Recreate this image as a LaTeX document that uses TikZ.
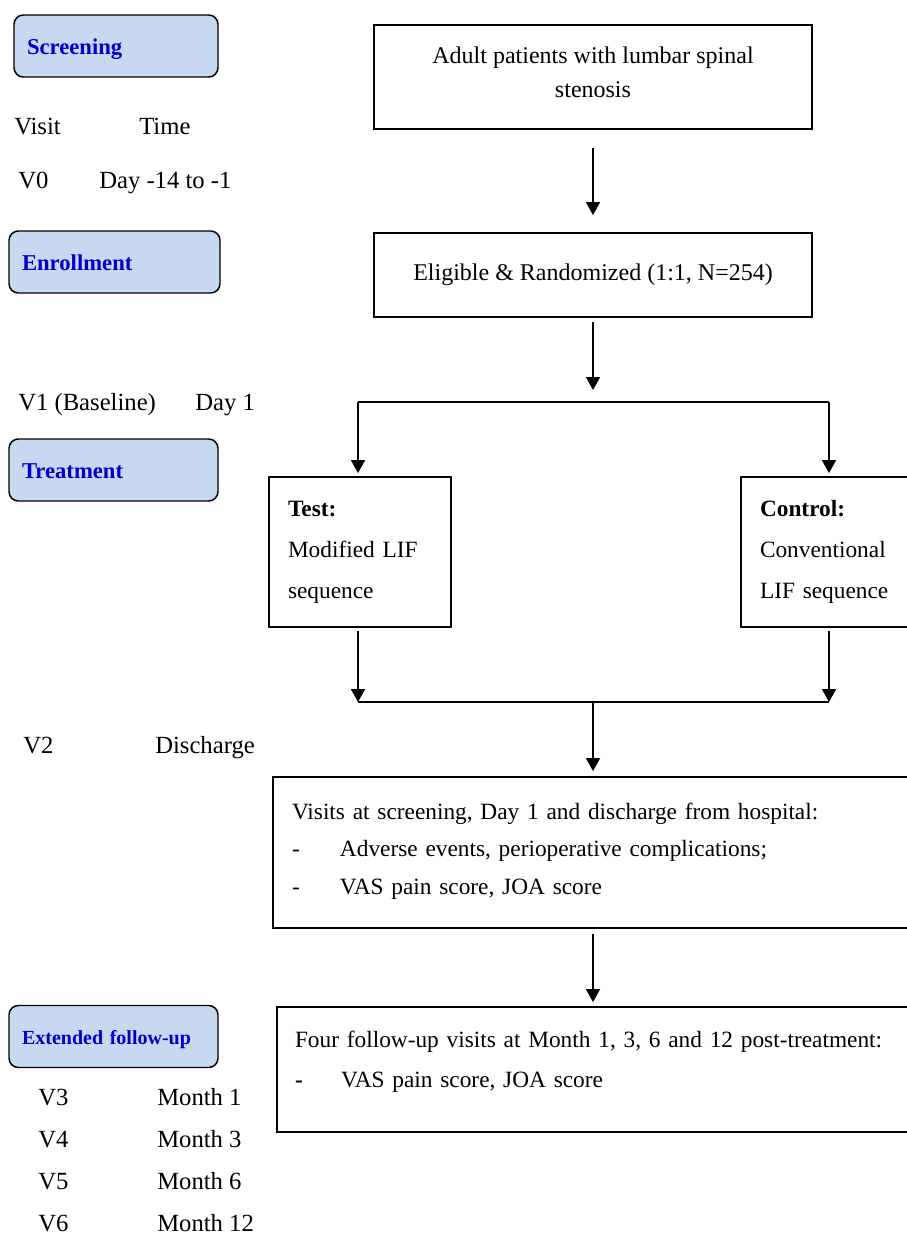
\documentclass[tikz,border=0pt]{standalone}
\usepackage{fontspec}
\setmainfont{Liberation Serif}
\usetikzlibrary{arrows.meta,calc,positioning}
\definecolor{phasefill}{RGB}{198,217,241}
\definecolor{phasetext}{RGB}{0,0,204}

\begin{document}
\begin{tikzpicture}[x=0.75pt,y=-0.75pt,
  phase/.style={draw,line width=1.1pt,rounded corners=7pt,fill=phasefill,text=phasetext,
    font=\fontsize{17}{20}\selectfont\bfseries,align=left,inner xsep=9.75pt,minimum height=46.5pt,
    text height=14pt,text depth=2pt},
  lbl/.style={anchor=base west,inner sep=0pt,font=\fontsize{18.5}{22}\selectfont},
  box/.style={draw,line width=1.4pt,inner ysep=0pt,inner xsep=14.25pt},
  arr/.style={line width=1.3pt,-{Triangle[width=10.5pt,length=9.75pt]}},
  ln/.style={line width=1.3pt}]
 \clip (0,0) rectangle (907,1236);
 % phases
 \node[phase,text width=133.5pt] (screen) at (116,46) {Screening};
 \node[phase,text width=138.75pt] (enrol) at (114.5,262) {Enrollment};
 \node[phase,text width=137.25pt] (treat) at (113.5,470) {Treatment};
 \node[phase,text width=137.25pt,font=\fontsize{15}{18}\selectfont\bfseries] (extfu) at (113.5,1036.5) {Extended follow-up};
 % visits and times
 \node[lbl] (visit) at (14,134) {Visit};
 \node[lbl] (time) at (139,134) {Time};
 \node[lbl] (v0) at (18,188) {V0};
 \node[lbl] (t0) at (99,188) {Day -14 to -1};
 \node[lbl] (v1) at (18,410) {V1 (Baseline)};
 \node[lbl] (t1) at (195,410) {Day 1};
 \node[lbl] (v2) at (23,753) {V2};
 \node[lbl] (t2) at (155,753) {Discharge};
 \node[lbl] (v3) at (38,1105) {V3};
 \node[lbl] (t3) at (157,1105) {Month 1};
 \node[lbl] (v4) at (38,1147) {V4};
 \node[lbl] (t4) at (157,1147) {Month 3};
 \node[lbl] (v5) at (38,1189) {V5};
 \node[lbl] (t5) at (157,1189) {Month 6};
 \node[lbl] (v6) at (38,1231) {V6};
 \node[lbl] (t6) at (157,1231) {Month 12};
 % flow
 \node[box,minimum width=328.5pt,minimum height=78pt,align=center,font=\fontsize{18}{25.5}\selectfont] (adult) at (593,77) {Adult patients with lumbar spinal\\stenosis\rule[-7.5pt]{0pt}{0pt}};
 \node[box,minimum width=328.5pt,minimum height=63pt,font=\fontsize{18}{22}\selectfont] (elig) at (593,275) {Eligible \& Randomized (1:1, N=254)};
 \node[box,text width=108pt,minimum height=112.5pt,align=left,font=\fontsize{17.5}{30.75}\selectfont] (test) at (360,552) {\textbf{Test:}\\Modified LIF\\sequence};
 \node[box,text width=108pt,minimum height=112.5pt,align=left,font=\fontsize{17.5}{30.75}\selectfont] (ctrl) at (832,552) {\textbf{Control:}\\Conventional\\LIF sequence};
 \node[box,text width=456.75pt,minimum height=113.25pt,align=left,font=\fontsize{17.5}{28}\selectfont] (visits) at (596.5,852.5) {Visits at screening, Day 1 and discharge from hospital:\\
   \makebox[36pt][l]{-}Adverse events, perioperative complications;\\
   \makebox[36pt][l]{-}VAS pain score, JOA score\rule[-6pt]{0pt}{0pt}};
 \node[box,text width=455.25pt,inner xsep=13.5pt,minimum height=93.75pt,align=left,font=\fontsize{17.5}{30}\selectfont] (four) at (598.5,1069.5) {Four follow-up visits at Month 1, 3, 6 and 12 post-treatment:\\
   \makebox[34.5pt][l]{\textbf{-}}VAS pain score, JOA score\rule[-15pt]{0pt}{0pt}};
 %
 \coordinate (split) at (593,402);
 \coordinate (sL) at (358,402);
 \coordinate (sR) at (829,402);
 \coordinate (mL) at (358,702);
 \coordinate (mR) at (829,702);
 \coordinate (merge) at (593,702);
 \draw[arr,shorten <=13.5pt,shorten >=12.75pt] (adult.south) -- (elig.north);
 \draw[arr,shorten <=3pt,shorten >=9pt] (elig.south) -- (split);
 \draw[ln] (sL) -- (sR);
 \draw[arr,shorten >=2.25pt] (sL) -- (sL |- test.north);
 \draw[arr,shorten >=2.25pt] (sR) -- (sR |- ctrl.north);
 \draw[arr,shorten <=2.25pt] (sL |- test.south) -- (mL);
 \draw[arr,shorten <=2.25pt] (sR |- ctrl.south) -- (mR);
 \draw[ln] (mL) -- (mR);
 \draw[arr,shorten >=3.75pt] (merge) -- (merge |- visits.north);
 \draw[arr,shorten <=3.75pt,shorten >=3pt] (merge |- visits.south) -- (merge |- four.north);
\end{tikzpicture}
\end{document}
